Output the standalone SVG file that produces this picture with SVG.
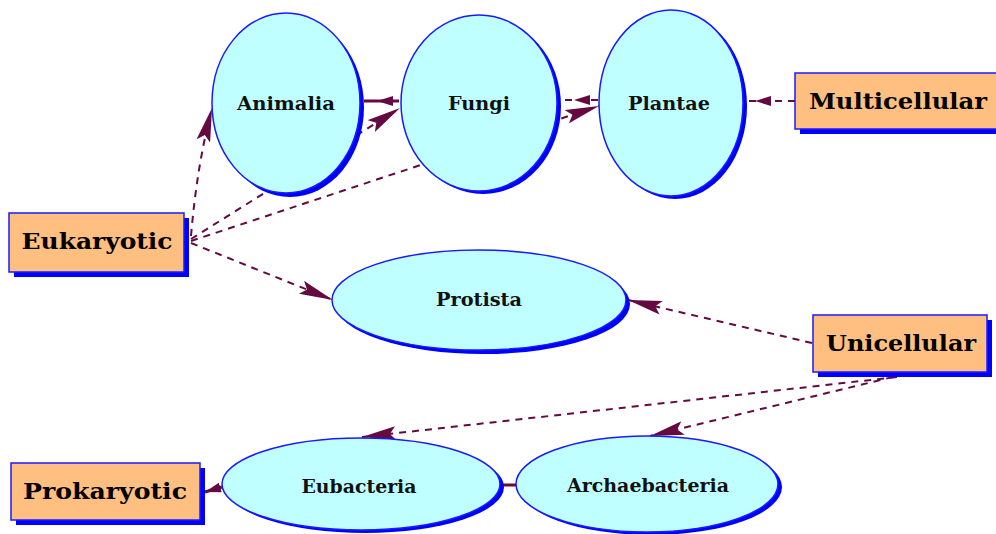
<svg xmlns="http://www.w3.org/2000/svg" width="996" height="534" viewBox="0 0 996 534">
<style>
.edge{fill:none;stroke:#640a40;stroke-width:2;stroke-dasharray:7 6}
.solid{fill:none;stroke:#640a40;stroke-width:3}
.ell{fill:#bfffff;stroke:#1a1aff;stroke-width:1.5}
.shd{fill:#0000ff}
.box{fill:#ffbf80;stroke:#1a1aff;stroke-width:1.5}
.lbl{font-family:"DejaVu Serif","Liberation Serif",serif;font-weight:bold;font-size:18px;fill:#111;text-anchor:middle}
.big{font-family:"DejaVu Serif","Liberation Serif",serif;font-weight:bold;font-size:23px;fill:#000;text-anchor:middle}
</style>
<defs>
<marker id="ah" viewBox="0 0 34 14" markerWidth="34" markerHeight="14" refX="34" refY="7" orient="auto" markerUnits="userSpaceOnUse">
<path d="M0,0 L34,7 L0,14 L6,7 z" fill="#640a40"/>
</marker>
<marker id="as" viewBox="0 0 16 10" markerWidth="16" markerHeight="10" refX="16" refY="5" orient="auto" markerUnits="userSpaceOnUse">
<path d="M0,0 L16,5 L0,10 z" fill="#640a40"/>
</marker>
</defs>
<rect width="996" height="534" fill="#ffffff"/>
<g id="connectors">
<path class="edge" d="M191,236 Q197,165 212,108" marker-end="url(#ah)"/>
<path class="edge" d="M191,239 L400,108" marker-end="url(#ah)"/>
<path class="edge" d="M191,241 L599,106" marker-end="url(#ah)"/>
<path class="edge" d="M191,243 L333,300" marker-end="url(#ah)"/>
<path class="solid" d="M399,101 L377,101 L364,101" marker-mid="url(#as)"/>
<path class="edge" d="M598,100 L574,100 L559,100" marker-mid="url(#as)"/>
<path class="edge" d="M795,101 L755,101 L745,101" marker-mid="url(#as)"/>
<path class="edge" d="M812,343 L628,300" marker-end="url(#ah)"/>
<path class="edge" d="M897,377 L362,437" marker-end="url(#ah)"/>
<path class="edge" d="M893,377 L650,436" marker-end="url(#ah)"/>
<path class="solid" d="M222,487 L205,492" marker-end="url(#as)"/>
<path class="solid" d="M516,485 L502,485"/>
</g>
<g id="animalia">
<ellipse class="shd" cx="290" cy="107" rx="74" ry="90"/>
<ellipse class="ell" cx="286" cy="103" rx="74" ry="90"/>
<text class="lbl" x="286" y="110" textLength="98" lengthAdjust="spacingAndGlyphs">Animalia</text>
</g>
<g id="fungi">
<ellipse class="shd" cx="483" cy="106" rx="78" ry="88"/>
<ellipse class="ell" cx="479" cy="103" rx="78" ry="88"/>
<text class="lbl" x="479" y="110" textLength="62" lengthAdjust="spacingAndGlyphs">Fungi</text>
</g>
<g id="plantae">
<ellipse class="shd" cx="675" cy="106" rx="72" ry="93"/>
<ellipse class="ell" cx="671" cy="103" rx="72" ry="93"/>
<text class="lbl" x="669" y="110" textLength="82" lengthAdjust="spacingAndGlyphs">Plantae</text>
</g>
<g id="multicellular">
<rect class="shd" x="800" y="78" width="205" height="56"/>
<rect class="box" x="795" y="73" width="205" height="56"/>
<text class="big" x="898" y="109" textLength="178" lengthAdjust="spacingAndGlyphs">Multicellular</text>
</g>
<g id="eukaryotic">
<rect class="shd" x="14" y="218" width="175" height="59"/>
<rect class="box" x="9" y="213" width="175" height="59"/>
<text class="big" x="97" y="249" textLength="151" lengthAdjust="spacingAndGlyphs">Eukaryotic</text>
</g>
<g id="protista">
<ellipse class="shd" cx="483" cy="304" rx="147" ry="50"/>
<ellipse class="ell" cx="479" cy="300" rx="147" ry="50"/>
<text class="lbl" x="479" y="306" textLength="86" lengthAdjust="spacingAndGlyphs">Protista</text>
</g>
<g id="unicellular">
<rect class="shd" x="818" y="320" width="174" height="57"/>
<rect class="box" x="813" y="315" width="174" height="57"/>
<text class="big" x="901" y="351" textLength="150" lengthAdjust="spacingAndGlyphs">Unicellular</text>
</g>
<g id="prokaryotic">
<rect class="shd" x="16" y="468" width="189" height="57"/>
<rect class="box" x="11" y="463" width="189" height="57"/>
<text class="big" x="105" y="499" textLength="164" lengthAdjust="spacingAndGlyphs">Prokaryotic</text>
</g>
<g id="eubacteria">
<ellipse class="shd" cx="365" cy="487" rx="139" ry="46"/>
<ellipse class="ell" cx="361" cy="484" rx="139" ry="46"/>
<text class="lbl" x="359" y="493" textLength="115" lengthAdjust="spacingAndGlyphs">Eubacteria</text>
</g>
<g id="archaebacteria">
<ellipse class="shd" cx="651" cy="487" rx="131" ry="48"/>
<ellipse class="ell" cx="647" cy="484" rx="131" ry="48"/>
<text class="lbl" x="648" y="492" textLength="162" lengthAdjust="spacingAndGlyphs">Archaebacteria</text>
</g>
</svg>
